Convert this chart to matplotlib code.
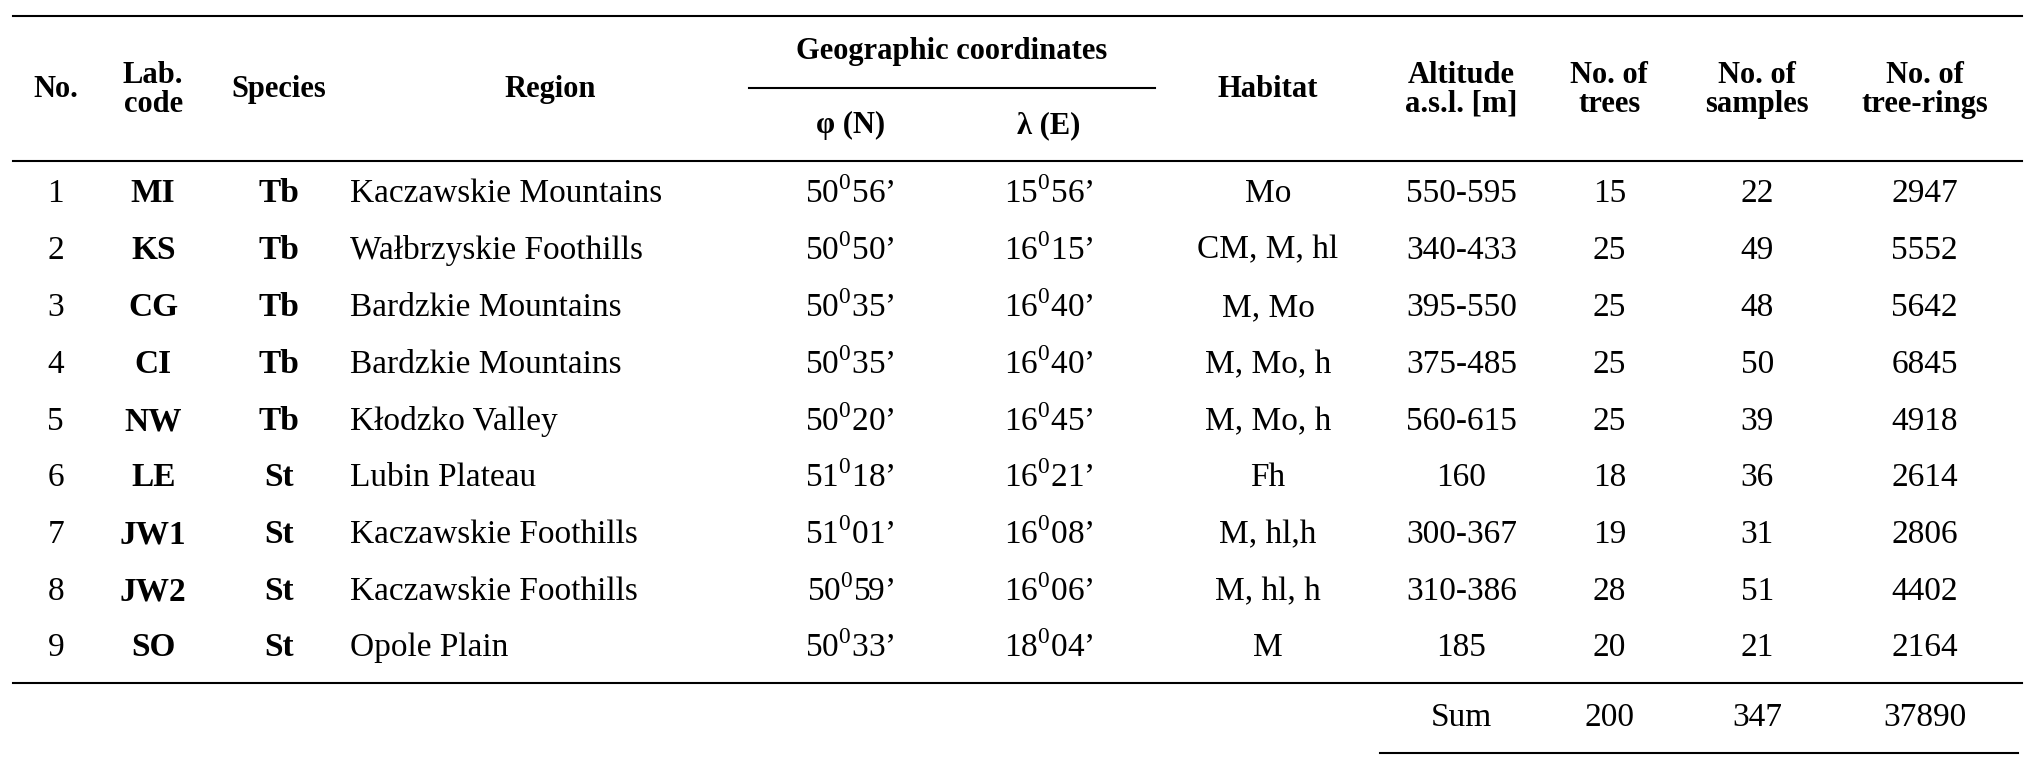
import matplotlib.pyplot as plt
from matplotlib.lines import Line2D

plt.rcParams['font.family'] = ['Liberation Serif', 'DejaVu Serif']
plt.rcParams['mathtext.fontset'] = 'custom'
plt.rcParams['mathtext.rm'] = 'Liberation Serif'

numbers = ['1', '2', '3', '4', '5', '6', '7', '8', '9']
lab_codes = ['MI', 'KS', 'CG', 'CI', 'NW', 'LE', 'JW1', 'JW2', 'SO']
species = ['Tb', 'Tb', 'Tb', 'Tb', 'Tb', 'St', 'St', 'St', 'St']
regions = ['Kaczawskie Mountains', 'Wałbrzyskie Foothills', 'Bardzkie Mountains',
           'Bardzkie Mountains', 'Kłodzko Valley', 'Lubin Plateau',
           'Kaczawskie Foothills', 'Kaczawskie Foothills', 'Opole Plain']
lat = [('50', '56'), ('50', '50'), ('50', '35'), ('50', '35'), ('50', '20'),
       ('51', '18'), ('51', '01'), ('50', '59'), ('50', '33')]
lon = [('15', '56'), ('16', '15'), ('16', '40'), ('16', '40'), ('16', '45'),
       ('16', '21'), ('16', '08'), ('16', '06'), ('18', '04')]
habitat = ['Mo', 'CM, M, hl', 'M, Mo', 'M, Mo, h', 'M, Mo, h', 'Fh', 'M, hl,h',
           'M, hl, h', 'M']
altitude = ['550-595', '340-433', '395-550', '375-485', '560-615', '160',
            '300-367', '310-386', '185']
trees = [15, 25, 25, 25, 25, 18, 19, 28, 20]
samples = [22, 49, 48, 50, 39, 36, 31, 51, 21]
rings = [2947, 5552, 5642, 6845, 4918, 2614, 2806, 4402, 2164]

W, H = 1568.0, 594.0
fig = plt.figure(figsize=(20.35, 7.71), dpi=100)


def X(px):
    return px / W


def Y(py):
    return 1 - py / H


def hline(x0, x1, y, lw=1.5):
    fig.add_artist(Line2D([X(x0), X(x1)], [Y(y), Y(y)], color='black', lw=lw))


def txt(x, y, s, bold=False, ha='center', size=24):
    fig.text(X(x), Y(y), s, ha=ha, va='center', size=size,
             fontweight='bold' if bold else 'normal', linespacing=1.0)


def coord(c):
    return r'%s$^{\mathrm{0}}$%s’' % c


hline(10, 1558, 12)
hline(577, 890, 68)
hline(10, 1558, 124)
hline(10, 1558, 526)
hline(1063, 1555, 580)

hs = 22
txt(43, 69, 'No.', True, size=hs)
txt(118, 69, 'Lab.\ncode', True, size=hs)
txt(215, 69, 'Species', True, size=hs)
txt(424, 69, 'Region', True, size=hs)
txt(733, 40, 'Geographic coordinates', True, size=hs)
txt(655, 97, 'φ (N)', True, size=hs)
txt(808, 97, 'λ (E)', True, size=hs)
txt(977, 69, 'Habitat', True, size=hs)
txt(1126, 69, 'Altitude\na.s.l. [m]', True, size=hs)
txt(1240, 69, 'No. of\ntrees', True, size=hs)
txt(1354, 69, 'No. of\nsamples', True, size=hs)
txt(1483, 69, 'No. of\ntree-rings', True, size=hs)

rows_y = [149, 193, 237, 281, 325, 368, 412, 456, 499]
for i, y in enumerate(rows_y):
    txt(43, y, numbers[i])
    txt(118, y, lab_codes[i], True)
    txt(215, y, species[i], True)
    txt(270, y, regions[i], ha='left')
    txt(655, y, coord(lat[i]))
    txt(808, y, coord(lon[i]))
    txt(977, y, habitat[i])
    txt(1126, y, altitude[i])
    txt(1240, y, str(trees[i]))
    txt(1354, y, str(samples[i]))
    txt(1483, y, str(rings[i]))

txt(1126, 553, 'Sum')
txt(1240, 553, str(sum(trees)))
txt(1354, 553, str(sum(samples)))
txt(1483, 553, str(sum(rings)))

fig.savefig('out.png', dpi=100, facecolor='white')
